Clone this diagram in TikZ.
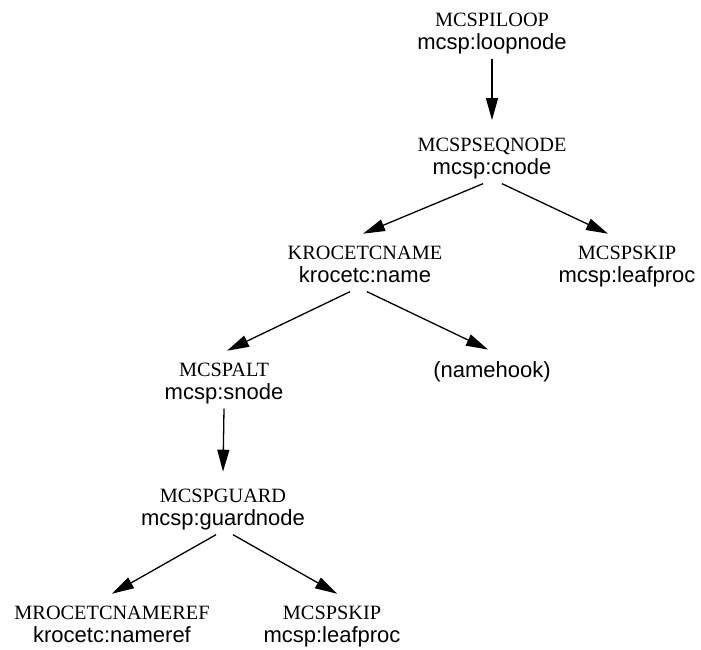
\documentclass[tikz,border=0pt]{standalone}
\usepackage{fontspec}
\setmainfont{Liberation Serif}
\setsansfont{Liberation Sans}
\usetikzlibrary{arrows.meta}

% two line label: tag name on top, node type below
\newcommand{\twolbl}[2]{\rule{0pt}{22pt}#1\\{\sffamily\fontsize{22}{23}\selectfont #2\vphantom{p}}}

\begin{document}
\begin{tikzpicture}[x=1pt,y=-1pt,
    lbl/.style={align=center, inner xsep=2pt, inner ysep=4pt, font=\fontsize{20.3}{23}\selectfont},
    link/.style={-{Triangle[length=22pt,width=12pt]}, line width=1.3pt}]
          \useasboundingbox (0,0) rectangle (701,650);
          % loop
          \node[lbl] (loop) at (492,29.7) {\twolbl{MCSPILOOP}{mcsp:loopnode}};
          % seq
          \node[lbl] (seq) at (492,154.7) {\twolbl{MCSPSEQNODE}{mcsp:cnode}};
          % name
          \node[lbl] (name) at (365,262.7) {\twolbl{KROCETCNAME}{krocetc:name}};
          % skip under seq
          \node[lbl] (skipa) at (627,262.7) {\twolbl{MCSPSKIP}{mcsp:leafproc}};
          % alt
          \node[lbl] (alt) at (224,379.7) {\twolbl{MCSPALT}{mcsp:snode}};
          % namehook
          \node[lbl] (hook) at (492,372) {\sffamily\fontsize{22}{23}\selectfont (namehook)};
          % guard
          \node[lbl] (guard) at (223,505.7) {\twolbl{MCSPGUARD}{mcsp:guardnode}};
          % nameref
          \node[lbl] (ref) at (112,622.7) {\twolbl{MROCETCNAMEREF}{krocetc:nameref}};
          % skip under guard
          \node[lbl] (skipb) at (332,622.7) {\twolbl{MCSPSKIP}{mcsp:leafproc}};
          % loop to seq
          \draw[link] (loop.south) -- ([yshift=5.6pt]seq.north);
          % seq to name and skip
          \draw[link] ([xshift=-9pt]seq.south) -- ([xshift=-2pt]name.north);
          \draw[link] ([xshift=10pt]seq.south) -- ([xshift=-19pt]skipa.north);
          % name to alt and namehook
          \draw[link] ([xshift=-15pt]name.south) -- ([xshift=3pt]alt.north);
          \draw[link] ([xshift=2pt]name.south) -- ([xshift=-4pt,yshift=8pt]hook.north);
          % alt to guard
          \draw[link] (alt.south) -- ([yshift=5pt]guard.north);
          % guard to nameref and skip
          \draw[link] ([xshift=-7pt]guard.south) -- (ref.north);
          \draw[link] ([xshift=10pt]guard.south) -- ([xshift=5pt]skipb.north);
        \end{tikzpicture}
\end{document}
